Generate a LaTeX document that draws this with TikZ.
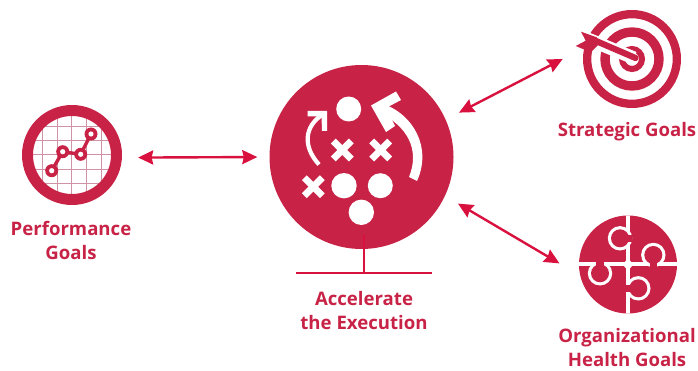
\documentclass[tikz,border=0pt]{standalone}
\usepackage{fontspec}
\setmainfont{Open Sans}
\usetikzlibrary{arrows.meta}
\definecolor{crim}{HTML}{C82346}
\definecolor{arrowred}{HTML}{D8113F}
\definecolor{gridc}{HTML}{CF93A5}
\tikzset{
  hub/.style={circle,inner sep=0pt,minimum size=#1,fill=crim},
  linkarrow/.style={draw=arrowred,line width=2.4pt,{Stealth[length=15pt,width=14pt,inset=1.5pt]}-{Stealth[length=15pt,width=14pt,inset=1.5pt]}},
  lbl/.style={text=crim,font=\fontsize{18.6}{24}\selectfont\bfseries,align=center,inner sep=0pt},
  crossmark/.style={draw=white,line width=6.8pt},
  standline/.style={draw=arrowred,line width=2pt}
}
\begin{document}
\begin{tikzpicture}[x=1pt,y=-1pt]
\useasboundingbox (0,0) rectangle (698,371);
% main hub
\node[hub=184pt] (main) at (361.5,157) {};
\foreach \p/\r in {{348.7,109}/12.5,{344,185.7}/12.7,{380.3,185.7}/12.5,{361.3,212.3}/12.7}
  \fill[white] (\p) circle (\r);
\foreach \p in {{342.3,150},{380.7,150},{313.3,186.7}}{
  \begin{scope}[shift={(\p)}]
    \draw[crossmark] (-9,-9) -- (9,9);
    \draw[crossmark] (-9,9) -- (9,-9);
  \end{scope}}
% big arrow
\fill[white] (409,177) .. controls (420,150) and (408,126) .. (378,112) -- (381,103)
  .. controls (414,114) and (432,148) .. (417,181) -- cycle;
\fill[white] (371,105.5) -- (396,91.5) -- (401,100) -- (386,108) -- (395,126) -- (386,132) -- cycle;
% small arrow
\draw[white,line width=4.2pt] (319,164.5) .. controls (302,146) and (305,126) .. (322,115);
\fill[white] (327,111) -- (307.5,111) -- (307.5,116.5) -- (321.5,116.5) -- (322,131) -- (327,131) -- cycle;
% stand
\draw[standline] (364,235) -- (364,273);
\draw[standline] (296,273) -- (432,273);
\node[lbl] (mainlbl) at (364,311) {Accelerate\\the Execution};
% performance
\node[circle,inner sep=0pt,minimum size=100pt] (perf) at (72,155) {};
\begin{scope}
  \clip (72,155) circle (40);
  \foreach \x in {42.3,57,71.7,86.3,101} \draw[gridc,line width=1pt] (\x,110) -- (\x,200);
  \foreach \y in {126.7,140.7,155,169.3,183.3} \draw[gridc,line width=1pt] (27,\y) -- (117,\y);
\end{scope}
\draw[crim,line width=11pt] (72,155) circle (44.5);
\draw[crim,line width=3.4pt] (51.7,170.7) -- (62.7,151.7) -- (80.7,154.3) -- (91,134);
\foreach \p in {{51.7,170.7},{62.7,151.7},{80.7,154.3},{91,134}}{
  \fill[crim] (\p) circle (6.5);
  \fill[white] (\p) circle (2.6);}
\node[lbl] (perflbl) at (71,240) {Performance\\Goals};
% target
\node[circle,inner sep=0pt,minimum size=98pt] (target) at (632,59) {};
\draw[crim,line width=8.3pt] (632,59) circle (44.85);
\draw[crim,line width=9.4pt] (632,59) circle (27);
\draw[crim,line width=6pt] (632,59) circle (10);
\draw[white,line width=13pt] (578,35) -- (634,58);
\draw[crim,line width=6.2pt,line cap=round] (596,41) -- (635.5,58);
\fill[crim] (581,31.7) -- (596.7,37.3) -- (600,43.3) -- (590.7,52.3) -- (575.7,46) -- (585.7,40.7) -- cycle;
\node[lbl] (targetlbl) at (627,132) {Strategic Goals};
% puzzle
\node[hub=98pt] (puzzle) at (628,264.5) {};
\begin{scope}
  \clip (628,264.5) circle (49);
  \draw[white,line width=3.3pt] (628,210) -- (628,320);
  \draw[white,line width=3.3pt] (575,264) -- (682,264);
  \fill[white] (628,258.5) -- (633.5,264.5) -- (628,270.5) -- (622.5,264.5) -- cycle;
\end{scope}
\foreach \p/\e in {{620,238.3}/{632,238.3},{653.3,255}/{653.3,270},{600,273.3}/{600,258},{638.3,288.3}/{623,288.3}}{
  \fill[white] (\p) circle (12.2);
  \fill[crim] (\p) circle (9);
  \draw[crim,line width=7.5pt] (\p) -- (\e);
}
\node[lbl] (puzzlelbl) at (627,347.5) {Organizational\\Health Goals};
% connectors
\path[linkarrow,shorten <=16pt,shorten >=12pt] (perf.-3) -- (main.180);
\path[linkarrow,shorten <=15pt,shorten >=24pt] (main.24) -- (target.167);
\path[linkarrow,shorten <=15pt,shorten >=24pt] (main.-25) -- (puzzle.193);
\end{tikzpicture}
\end{document}
